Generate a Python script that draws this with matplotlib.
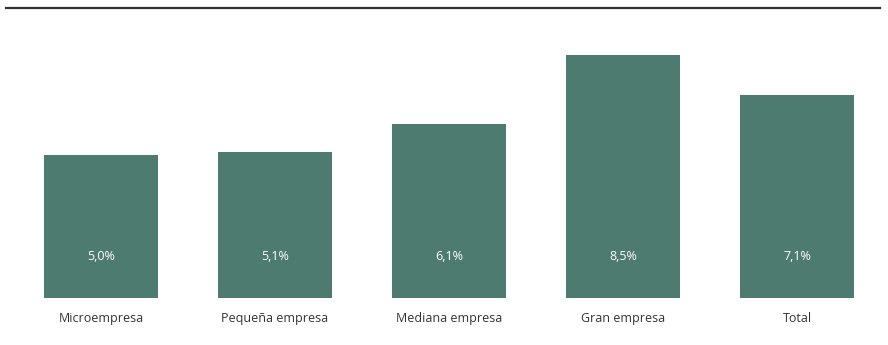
import matplotlib.pyplot as plt
import numpy as np

# Data
categories = ["Microempresa", "Pequeña empresa", "Mediana empresa", "Gran empresa", "Total"]
values = [5.0, 5.1, 6.1, 8.5, 7.1]
value_labels = ["5,0%", "5,1%", "6,1%", "8,5%", "7,1%"]

BAR_COLOR = "#4e7b6f"
TEXT_COLOR = "#333333"

plt.rcParams["font.family"] = ["Open Sans", "DejaVu Sans"]

fig = plt.figure(figsize=(8.88, 3.45), dpi=100)
ax = fig.add_axes([6 / 888, 47 / 345, 874 / 888, 290 / 345])

x = np.arange(len(categories))
ax.bar(x, values, width=0.655, color=BAR_COLOR)

# value labels sit at a fixed height near the bottom of each bar
for xi, lab in zip(x, value_labels):
    ax.text(xi, 1.45, lab, ha="center", va="center", color="white", fontsize=9)

ax.set_xlim(-0.546, 4.477)
ax.set_ylim(0, 10.14)

ax.set_xticks(x)
ax.set_xticklabels(categories, fontsize=9, color=TEXT_COLOR)
ax.tick_params(axis="x", length=0, pad=10)
ax.set_yticks([])

for side in ["left", "right", "bottom"]:
    ax.spines[side].set_visible(False)
ax.spines["top"].set_color("#333333")
ax.spines["top"].set_linewidth(1.6)

fig.savefig("out.png", dpi=100)
